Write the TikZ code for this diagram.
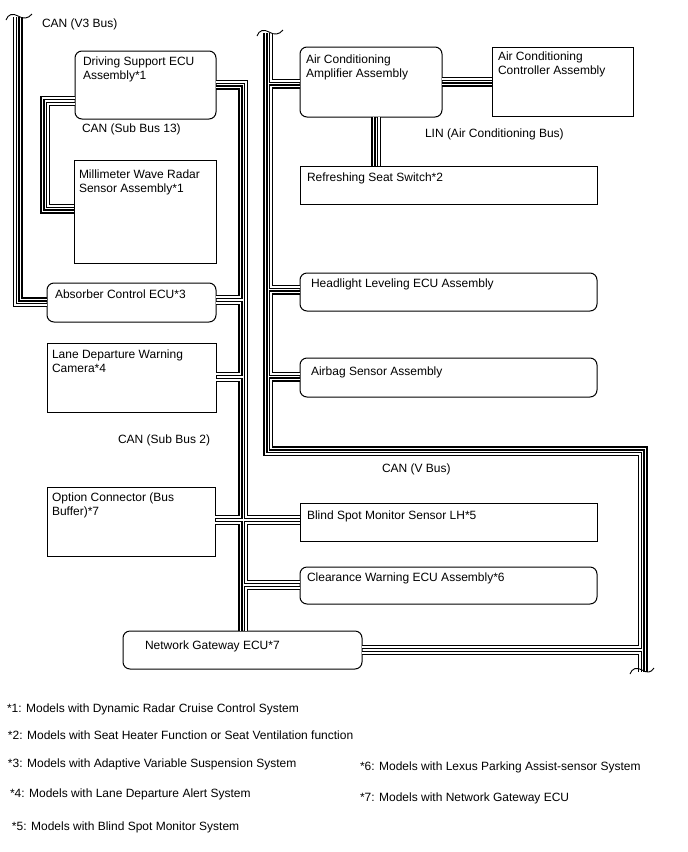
\documentclass[tikz,border=0pt]{standalone}
\usepackage{fontspec}
\setmainfont{Liberation Sans}
\begin{document}
\begin{tikzpicture}[x=1pt,y=-1pt,
  box/.style={draw, line width=1pt, anchor=north west, outer sep=0pt, inner sep=0pt},
  rbox/.style={box, rounded corners=7pt},
  lbl/.style={anchor=north west, inner sep=0pt, outer sep=0pt, align=left, font=\fontsize{12}{13.5}\selectfont},
  wire/.style={draw, line width=1.5pt, double=white, double distance=1.1pt, line join=miter, line cap=butt},
  brk/.style={draw, line width=0.9pt}
]
\useasboundingbox (0,0) rectangle (688,852);

% boxes
\node[rbox, minimum width=141pt, minimum height=68pt] (ds) at (75,51) {};
\node[box, minimum width=142pt, minimum height=103pt] (mw) at (74,160) {};
\node[rbox, minimum width=169pt, minimum height=39pt] (ab) at (47,283) {};
\node[box, minimum width=169pt, minimum height=69pt] (ld) at (47,343) {};
\node[box, minimum width=168pt, minimum height=69pt] (oc) at (47,487) {};
\node[rbox, minimum width=239pt, minimum height=38pt] (gw) at (123,631) {};
\node[rbox, minimum width=142pt, minimum height=70pt] (acamp) at (300,47) {};
\node[box, minimum width=141pt, minimum height=69pt] (acctl) at (492,47) {};
\node[box, minimum width=297pt, minimum height=38pt] (rss) at (300,166) {};
\node[rbox, minimum width=297pt, minimum height=38pt] (hl) at (300,273) {};
\node[rbox, minimum width=297pt, minimum height=39pt] (air) at (300,358) {};
\node[box, minimum width=297pt, minimum height=38pt] (bsm) at (300,503) {};
\node[rbox, minimum width=297pt, minimum height=37pt] (cw) at (300,567) {};

% box texts
\node[lbl] (ds-t) at (83,57) {Driving Support ECU\\Assembly*1};
\node[lbl] (mw-t) at (79,170) {Millimeter Wave Radar\\Sensor Assembly*1};
\node[lbl] (ab-t) at (55,290) {Absorber Control ECU*3};
\node[lbl] (ld-t) at (52,350) {Lane Departure Warning\\Camera*4};
\node[lbl] (oc-t) at (52,493) {Option Connector (Bus\\Buffer)*7};
\node[lbl] (gw-t) at (145,641) {Network Gateway ECU*7};
\node[lbl] (acamp-t) at (306,55) {Air Conditioning\\Amplifier Assembly};
\node[lbl] (acctl-t) at (498,52) {Air Conditioning\\Controller Assembly};
\node[lbl] (rss-t) at (307,173) {Refreshing Seat Switch*2};
\node[lbl] (hl-t) at (311,279) {Headlight Leveling ECU Assembly};
\node[lbl] (air-t) at (311,367) {Airbag Sensor Assembly};
\node[lbl] (bsm-t) at (307,511) {Blind Spot Monitor Sensor LH*5};
\node[lbl] (cw-t) at (307,573) {Clearance Warning ECU Assembly*6};

% bus labels
\node[lbl] (l-v3) at (42,18.5) {CAN (V3 Bus)};
\node[lbl] (l-s13) at (82,124) {CAN (Sub Bus 13)};
\node[lbl] (l-s2) at (118,435) {CAN (Sub Bus 2)};
\node[lbl] (l-lin) at (425,129) {LIN (Air Conditioning Bus)};
\node[lbl] (l-v) at (382,464) {CAN (V Bus)};

% free ends
\coordinate (v3a) at (15,17);
\coordinate (v3b) at (20.5,17);
\coordinate (va) at (265.5,33);
\coordinate (vb) at (271,33);
\coordinate (vaend) at (640,672);
\coordinate (vbend) at (645.5,672);

% CAN (V3 Bus)
\draw[wire] (v3a) |- (ab.west |- 0,305);
\draw[wire] (v3b) |- (ab.west |- 0,299.5);

% CAN (Sub Bus 13)
\draw[wire] (ds.west |- 0,98) -| (42.5,211.5) -- (mw.west |- 0,211.5);
\draw[wire] (ds.west |- 0,104) -| (48,206) -- (mw.west |- 0,206);

% CAN (Sub Bus 2)
\draw[wire] (ds.east |- 0,82) -| (246,517) -- (bsm.west |- 0,517);
\draw[wire] (bsm.west |- 0,523) -| (246,582) -- (cw.west |- 0,582);
\draw[wire] (cw.west |- 0,588) -| (gw.north -| 246,0);
\draw[wire] (ds.east |- 0,87.5) -| (240.5,297) -- (ab.east |- 0,297);
\draw[wire] (ab.east |- 0,303) -| (240.5,374) -- (ld.east |- 0,374);
\draw[wire] (ld.east |- 0,380) -| (240.5,517) -- (oc.east |- 0,517);
\draw[wire] (oc.east |- 0,523) -| (gw.north -| 240.5,0);

% CAN (V Bus)
\draw[wire] (va) |- (640,454) -- (640,647) -- (gw.east |- 0,647);
\draw[wire] (gw.east |- 0,653) -| (vaend);
\draw[wire] (vb) |- (acamp.west |- 0,81);
\draw[wire] (acamp.west |- 0,86.5) -| (271,287) -- (hl.west |- 0,287);
\draw[wire] (hl.west |- 0,292.5) -| (271,374) -- (air.west |- 0,374);
\draw[wire] (air.west |- 0,379.5) -| (271,448.5) -| (vbend);

% LIN
\draw[wire] (acamp.east |- 0,79) -- (acctl.west |- 0,79);
\draw[wire] (acamp.east |- 0,84.5) -- (acctl.west |- 0,84.5);
\draw[wire] (acamp.south -| 373.5,0) -- (rss.north -| 373.5,0);
\draw[wire] (acamp.south -| 379,0) -- (rss.north -| 379,0);

% break marks
\draw[brk] (6,20) .. controls (8,14) and (13,13) .. (18,16) .. controls (23,19) and (28,19) .. (32,14);
\draw[brk] (257,36) .. controls (259,30) and (264,29) .. (269,32) .. controls (274,35) and (279,35) .. (283,30);
\draw[brk] (630,674) .. controls (632,668) and (637,667) .. (642,670) .. controls (647,673) and (651,673) .. (654,668);

% footnotes
\node[lbl] (n1) at (7,704) {*1: Models with Dynamic Radar Cruise Control System};
\node[lbl] (n2) at (8,731) {*2: Models with Seat Heater Function or Seat Ventilation function};
\node[lbl] (n3) at (8,759) {*3: Models with Adaptive Variable Suspension System};
\node[lbl] (n4) at (10,789) {*4: Models with Lane Departure Alert System};
\node[lbl] (n5) at (12,822) {*5: Models with Blind Spot Monitor System};
\node[lbl] (n6) at (360,762) {*6: Models with Lexus Parking Assist-sensor System};
\node[lbl] (n7) at (360,793) {*7: Models with Network Gateway ECU};
\end{tikzpicture}
\end{document}
